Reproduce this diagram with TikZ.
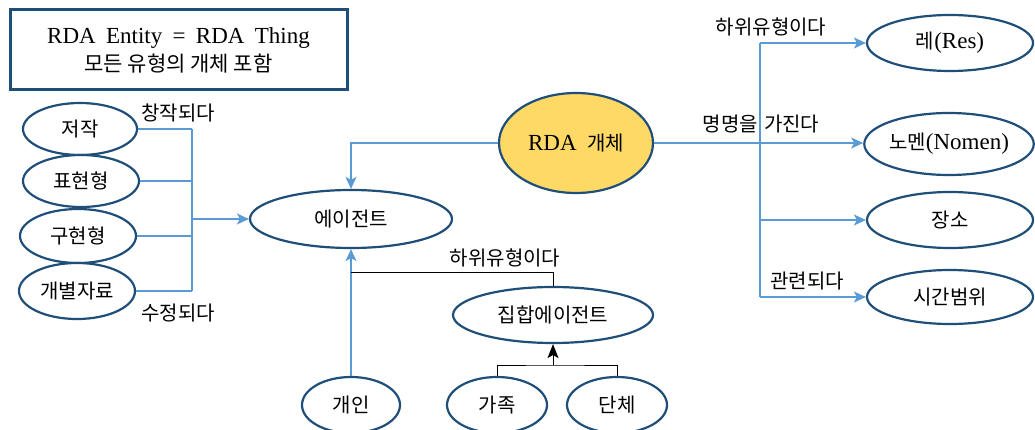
\documentclass[tikz,border=0pt]{standalone}
\usepackage{fontspec}
\setmainfont[WordSpace=1.8]{Liberation Serif}
\newfontfamily\kr{Noto Sans CJK KR}
\usetikzlibrary{arrows.meta,shapes.geometric}
\definecolor{edgeblue}{HTML}{1F4E79}
\definecolor{linkblue}{HTML}{5B9BD5}
\definecolor{fillyellow}{HTML}{FFD966}
\newcommand{\krtext}[1]{{\fontsize{20}{24}\selectfont\kr #1}}
\tikzset{
  ent/.style={draw=edgeblue, line width=2.2pt, ellipse, fill=white, inner sep=0pt,
    font=\fontsize{20}{24}\selectfont\kr},
  latinent/.style={font=\fontsize{23}{26}\selectfont},
  link/.style={draw=linkblue, line width=1.5pt},
  tip/.style={-{Stealth[length=12pt,width=11pt,inset=3pt]}},
  blk/.style={draw=black, line width=1pt},
  lbl/.style={inner sep=0pt, font=\fontsize{20}{24}\selectfont\kr},
}
\begin{document}
\begin{tikzpicture}[x=1pt,y=-1pt]
\useasboundingbox (0,0) rectangle (1035,430);
% title box
\node[draw=edgeblue, line width=3pt, minimum width=337, minimum height=80, align=center,
  font=\fontsize{23}{28}\selectfont] (title) at (178.5,50)
  {RDA Entity = RDA Thing\\ {\fontsize{21}{24}\selectfont\kr 모든 유형의 개체 포함}};
% left ellipses
\node[ent, minimum width=114, minimum height=52] (jeojak) at (80,129) {저작};
\node[ent, minimum width=116, minimum height=52] (pyohyeon) at (81,181) {표현형};
\node[ent, minimum width=116, minimum height=54] (guhyeon) at (78,236) {구현형};
\node[ent, minimum width=116, minimum height=56] (gaebyeol) at (77,291) {개별자료};
% agent
\node[ent, minimum width=202, minimum height=58] (agent) at (351,219) {에이전트};
% RDA entity
\node[ent, latinent, fill=fillyellow, minimum width=154, minimum height=100] (rda) at (576,143) {RDA \krtext{개체}};
% right ellipses
\node[ent, latinent, minimum width=166, minimum height=56] (res) at (950,43) {\krtext{레}(Res)};
\node[ent, latinent, minimum width=168, minimum height=62] (nomen) at (949,144) {\krtext{노멘}(Nomen)};
\node[ent, minimum width=166, minimum height=56] (jangso) at (950,220) {장소};
\node[ent, minimum width=166, minimum height=54] (sigan) at (950,297) {시간범위};
% collective agent and bottom
\node[ent, minimum width=200, minimum height=56] (jiphap) at (553,315) {집합에이전트};
\node[ent, minimum width=98, minimum height=56] (gaein) at (351,405) {개인};
\node[ent, minimum width=100, minimum height=56] (gajok) at (497,405) {가족};
\node[ent, minimum width=100, minimum height=56] (danche) at (617,405) {단체};
% left bundle
\coordinate (lb) at (192,219);
\draw[link] (jeojak.east) -- (jeojak.east -| lb);
\draw[link] (pyohyeon.east) -- (pyohyeon.east -| lb);
\draw[link] (guhyeon.east) -- (guhyeon.east -| lb);
\draw[link] (gaebyeol.east) -- (gaebyeol.east -| lb);
\draw[link] (jeojak.east -| lb) -- (gaebyeol.east -| lb);
\draw[link,tip] (lb) -- (agent.west);
\node[lbl] (l1) at (178,113) {창작되다};
\node[lbl] (l2) at (178,313) {수정되다};
% RDA to agent
\draw[link,tip] (rda.west) -| (agent.north);
% person to agent
\draw[link,tip] (gaein.north) -- (agent.south);
% subtype of agent
\coordinate (sj) at (351,272);
\draw[blk] (sj) -| (jiphap.north);
\node[lbl] (l3) at (505,258) {하위유형이다};
% family/corporate body to collective agent
\coordinate (gm) at (553,365);
\draw[blk] (gajok.north) |- (gm) -| (danche.north);
\draw[blk,-{Stealth[length=14pt,width=11pt,inset=3pt]}] (gm) -- (jiphap.south);
% right bundle
\coordinate (rb) at (760,143);
\draw[link,tip] (rda.east) -- (rda.east -| nomen.west);
\draw[link] (rb |- res.west) -- (rb |- sigan.west);
\draw[link,tip] (rb |- res.west) -- (res.west);
\draw[link,tip] (rb |- jangso.west) -- (jangso.west);
\draw[link,tip] (rb |- sigan.west) -- (sigan.west);
\node[lbl] (l4) at (771,27) {하위유형이다};
\node[lbl] (l5) at (761,124) {명명을\hspace{6pt}가진다};
\node[lbl] (l6) at (807,281) {관련되다};
\end{tikzpicture}
\end{document}
